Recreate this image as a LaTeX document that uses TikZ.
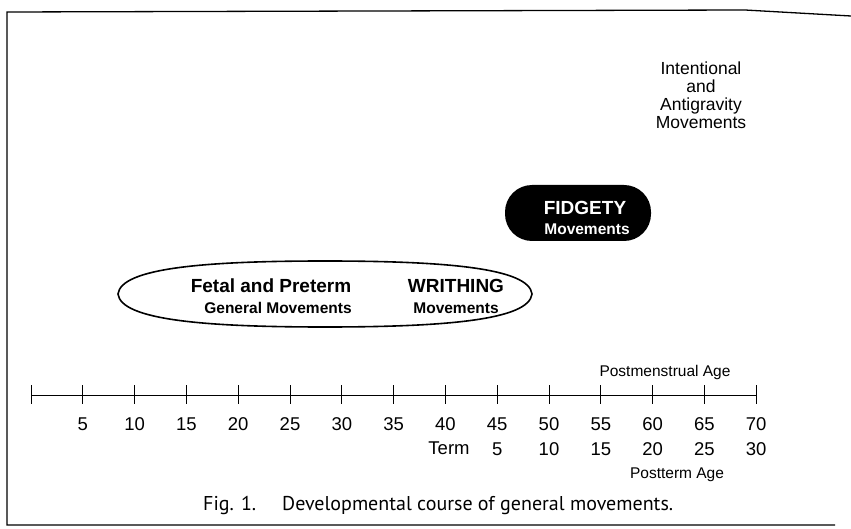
\documentclass[tikz,border=0pt]{standalone}
\usepackage{fontspec}
\setmainfont{Liberation Sans}
\newfontfamily\capfont{PT Sans}
\usetikzlibrary{shapes.geometric}

\begin{document}
\begin{tikzpicture}
  [x=1pt,y=-1pt,
    frame/.style={line width=1.3pt},
    phase/.style={draw,line width=1.6pt},
    fidg/.style={fill=black,rounded corners=27pt,inner sep=0pt},
    big/.style={font=\bfseries\fontsize{19}{20}\selectfont,inner sep=0pt},
    sub/.style={font=\bfseries\fontsize{15.5}{17}\selectfont,inner sep=0pt},
    num/.style={font=\fontsize{18.5}{19}\selectfont,inner sep=0pt},
    axlab/.style={font=\fontsize{15.5}{17}\selectfont,inner sep=0pt},
]
  \useasboundingbox (0,0) rectangle (851,529);

  \draw[frame] (851,16)--(745,10)--(7,12)--(7,525)--(835,525);

  \draw[phase] (118,294) .. controls (121,268) and (205,261) .. (325,261)
    .. controls (445,261) and (529,268) .. (532,294)
    .. controls (529,320) and (445,327) .. (325,327)
    .. controls (205,327) and (121,320) .. (118,294) -- cycle;
  \node[big] (fetal) at (271,286) {Fetal and Preterm};
  \node[sub] (fetalmv) at (278,308) {General Movements};
  \node[big] (wr) at (456,286) {WRITHING};
  \node[sub] (wrmv) at (456,308) {Movements};

  \node[fidg,minimum width=146,minimum height=56] (fg) at (578,213) {};
  \node[big,text=white] (fgt) at (585,208) {FIDGETY};
  \node[sub,text=white] (fgmv) at (587,229) {Movements};

  \node[align=center,font=\fontsize{17.5}{18}\selectfont,inner sep=0pt]
    (intent) at (701,95) {Intentional\\and\\Antigravity\\Movements};

  \draw[line width=1pt] (31,395)--(756,395);
  \foreach \i in {0,...,14}
    \draw[line width=1pt] ({31+51.8*\i},385)--({31+51.8*\i},404);
  \foreach \i in {1,...,14}
    \node[num] (pm\i) at ({31+51.8*\i},424) {\the\numexpr5*\i\relax};
  \node[num] (term) at (449,448) {Term};
  \foreach \i in {1,...,6}
    \node[num] (pt\i) at ({31+51.8*(\i+8)},449) {\the\numexpr5*\i\relax};

  \node[axlab] (pma) at (665,372) {Postmenstrual Age};
  \node[axlab] (pta) at (677,475) {Postterm Age};

  \node[anchor=west,font=\capfont\fontsize{20}{21}\selectfont,inner sep=0pt]
    (cap) at (203,505) {Fig. 1.\hspace{26pt}Developmental course of general movements.};

\end{tikzpicture}
\end{document}
